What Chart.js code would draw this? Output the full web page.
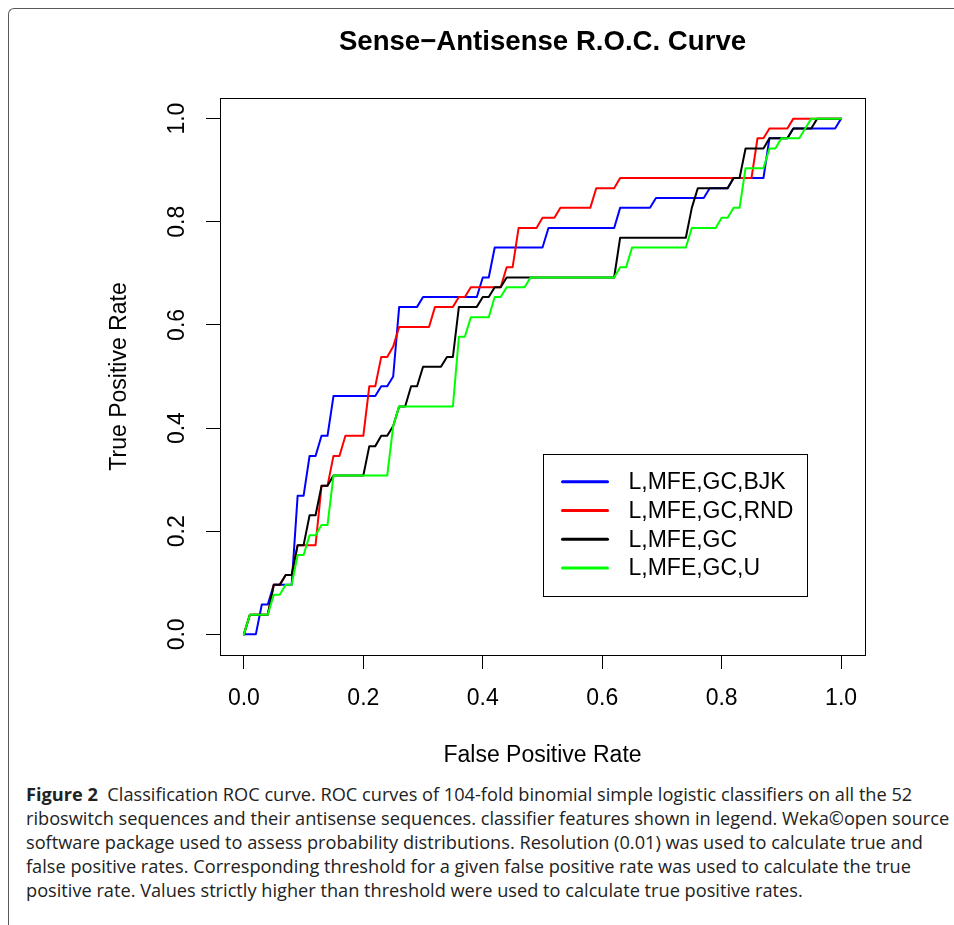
<!DOCTYPE html>
<html>
<head>
<meta charset="utf-8">
<script src="https://cdn.jsdelivr.net/npm/chart.js@4/dist/chart.umd.min.js"></script>
<style>
  body { margin: 0; background: #fff; width: 954px; height: 925px; overflow: hidden; position: relative; }
  #frame { position: absolute; left: 8px; top: 8px; width: 1000px; height: 1000px;
           border-left: 1px solid #5a5a5a; border-top: 1px solid #5a5a5a; border-top-left-radius: 6px; }
  #roc { position: absolute; left: 0; top: 0; }
  #caption { position: absolute; left: 26px; top: 782px; font-family: "Open Sans", sans-serif;
             font-size: 18.2px; line-height: 24px; color: #222; white-space: nowrap; }
</style>
</head>
<body>
<div id="frame"></div>
<canvas id="roc" width="954" height="775"></canvas>
<div id="caption"><b>Figure 2</b>&nbsp; Classification ROC curve. ROC curves of 104-fold binomial simple logistic classifiers on all the 52<br>riboswitch sequences and their antisense sequences. classifier features shown in legend. Weka©open source<br>software package used to assess probability distributions. Resolution (0.01) was used to calculate true and<br>false positive rates. Corresponding threshold for a given false positive rate was used to calculate the true<br>positive rate. Values strictly higher than threshold were used to calculate true positive rates.</div>
<script>
// false positive rate / true positive rate
let bjkFpr = [0,0.02,0.03,0.04,0.05,0.08,0.09,0.10,0.11,0.12,0.13,0.14,0.15,0.22,0.23,0.24,0.25,0.26,0.29,0.30,0.39,0.40,0.41,0.42,0.50,0.51,0.62,0.63,0.68,0.69,0.77,0.78,0.81,0.82,0.87,0.88,0.91,0.92,0.99,1];
let bjkTpr = [0,0,0.058,0.058,0.096,0.096,0.269,0.269,0.346,0.346,0.385,0.385,0.462,0.462,0.481,0.481,0.5,0.635,0.635,0.654,0.654,0.692,0.692,0.75,0.75,0.788,0.788,0.827,0.827,0.846,0.846,0.865,0.865,0.885,0.885,0.962,0.962,0.981,0.981,1];

let rndFpr = [0,0.01,0.04,0.05,0.06,0.07,0.08,0.09,0.12,0.13,0.14,0.15,0.16,0.17,0.20,0.21,0.22,0.23,0.24,0.25,0.26,0.31,0.32,0.35,0.36,0.37,0.38,0.43,0.44,0.45,0.46,0.49,0.50,0.52,0.53,0.58,0.59,0.62,0.63,0.85,0.86,0.87,0.88,0.91,0.92,1];
let rndTpr = [0,0.038,0.038,0.096,0.096,0.115,0.115,0.173,0.173,0.288,0.288,0.346,0.346,0.385,0.385,0.481,0.481,0.538,0.538,0.558,0.596,0.596,0.635,0.635,0.654,0.654,0.673,0.673,0.712,0.712,0.788,0.788,0.808,0.808,0.827,0.827,0.865,0.865,0.885,0.885,0.962,0.962,0.981,0.981,1,1];

let gcFpr = [0,0.01,0.04,0.05,0.06,0.07,0.08,0.09,0.10,0.11,0.12,0.13,0.14,0.15,0.20,0.21,0.22,0.23,0.24,0.25,0.26,0.27,0.28,0.29,0.30,0.33,0.34,0.35,0.36,0.39,0.40,0.41,0.42,0.43,0.44,0.62,0.63,0.74,0.75,0.76,0.81,0.82,0.83,0.84,0.87,0.88,0.91,0.92,0.95,0.96,1];
let gcTpr = [0,0.038,0.038,0.096,0.096,0.115,0.115,0.173,0.173,0.231,0.231,0.288,0.288,0.308,0.308,0.365,0.365,0.385,0.385,0.404,0.442,0.442,0.481,0.481,0.519,0.519,0.538,0.538,0.635,0.635,0.654,0.654,0.673,0.673,0.692,0.692,0.769,0.769,0.827,0.865,0.865,0.885,0.885,0.942,0.942,0.962,0.962,0.981,0.981,1,1];

let uFpr = [0,0.01,0.04,0.05,0.06,0.07,0.08,0.09,0.10,0.11,0.12,0.13,0.14,0.15,0.24,0.25,0.26,0.35,0.36,0.37,0.38,0.41,0.42,0.43,0.44,0.47,0.48,0.62,0.63,0.64,0.65,0.74,0.75,0.79,0.80,0.81,0.82,0.83,0.84,0.87,0.88,0.89,0.90,0.93,0.94,0.95,1];
let uTpr = [0,0.038,0.038,0.077,0.077,0.096,0.096,0.154,0.154,0.192,0.192,0.212,0.212,0.308,0.308,0.404,0.442,0.442,0.577,0.577,0.615,0.615,0.654,0.654,0.673,0.673,0.692,0.692,0.712,0.712,0.75,0.75,0.788,0.788,0.808,0.808,0.827,0.827,0.904,0.904,0.942,0.942,0.962,0.962,0.981,1,1];

let seriesNames = ['L,MFE,GC,BJK', 'L,MFE,GC,RND', 'L,MFE,GC', 'L,MFE,GC,U'];
let seriesColors = ['#0000ff', '#ff0000', '#000000', '#00ff00'];
let axisTicks = [0, 0.2, 0.4, 0.6, 0.8, 1.0];
let legendAt = [0.5, 0.35]; // top-left corner of legend box in data units

Chart.defaults.font.family = '"Liberation Sans", Arial, sans-serif';
Chart.defaults.color = '#000';

function toPoints(xs, ys) {
    return xs.map((x, i) => ({x: x, y: ys[i]}));
}

// box around plot area like R's plot frame
const frameBox = {
    id: 'frameBox',
    afterDraw(chart) {
        const {ctx, chartArea: a} = chart;
        ctx.save();
        ctx.strokeStyle = '#000';
        ctx.lineWidth = 1;
        ctx.strokeRect(Math.round(a.left) + 0.5, Math.round(a.top) + 0.5, Math.round(a.width), Math.round(a.height));
        ctx.restore();
    }
};

// title centred over the plot region
const plotTitle = {
    id: 'plotTitle',
    afterDraw(chart) {
        const {ctx, chartArea: a} = chart;
        ctx.save();
        ctx.font = 'bold 27.6px "Liberation Sans", Arial, sans-serif';
        ctx.fillStyle = '#000';
        ctx.textAlign = 'center';
        ctx.textBaseline = 'middle';
        ctx.fillText('Sense\u2212Antisense R.O.C. Curve', (a.left + a.right) / 2, 42);
        ctx.restore();
    }
};

// R style boxed legend inside the plot
const boxLegend = {
    id: 'boxLegend',
    afterDraw(chart) {
        const {ctx, scales} = chart;
        const left = scales.x.getPixelForValue(legendAt[0]);
        const top = scales.y.getPixelForValue(legendAt[1]);
        const w = 264, h = 142, rowH = 28.7;
        ctx.save();
        ctx.fillStyle = '#fff';
        ctx.fillRect(left, top, w, h);
        ctx.strokeStyle = '#000';
        ctx.lineWidth = 1;
        ctx.strokeRect(Math.round(left) + 0.5, Math.round(top) + 0.5, w, h);
        ctx.font = '23px "Liberation Sans", Arial, sans-serif';
        ctx.textBaseline = 'middle';
        ctx.textAlign = 'left';
        seriesNames.forEach((name, i) => {
            const y = top + 28 + i * rowH;
            ctx.strokeStyle = seriesColors[i];
            ctx.lineWidth = 3;
            ctx.lineCap = 'round';
            ctx.beginPath();
            ctx.moveTo(left + 20, y);
            ctx.lineTo(left + 65, y);
            ctx.stroke();
            ctx.fillStyle = '#000';
            ctx.fillText(name, left + 86, y + 1);
        });
        ctx.restore();
    }
};

const allFpr = [bjkFpr, rndFpr, gcFpr, uFpr];
const allTpr = [bjkTpr, rndTpr, gcTpr, uTpr];

new Chart(document.getElementById('roc').getContext('2d'), {
    type: 'line',
    data: {
        datasets: seriesNames.map((name, i) => ({
            label: name,
            data: toPoints(allFpr[i], allTpr[i]),
            borderColor: seriesColors[i],
            borderWidth: 2,
            pointRadius: 0,
            tension: 0,
            fill: false,
            borderCapStyle: 'round',
            borderJoinStyle: 'round',
            order: 4 - i
        }))
    },
    options: {
        responsive: false,
        animation: false,
        layout: { padding: { top: 98, right: 89, left: 0, bottom: 0 } },
        plugins: { legend: { display: false }, tooltip: { enabled: false } },
        scales: {
            x: {
                type: 'linear',
                min: -0.04,
                max: 1.04,
                afterBuildTicks: axis => { axis.ticks = axisTicks.map(v => ({value: v})); },
                afterFit: axis => { axis.height = 120; },
                grid: { drawOnChartArea: false, drawTicks: true, tickLength: 14, color: '#000' },
                border: { display: false },
                ticks: { font: { size: 23 }, padding: 16, maxRotation: 0, callback: v => v.toFixed(1) },
                title: { display: true, text: 'False Positive Rate', font: { size: 23 }, padding: { top: 0, bottom: 6 } }
            },
            y: {
                type: 'linear',
                min: -0.04,
                max: 1.04,
                afterBuildTicks: axis => { axis.ticks = axisTicks.map(v => ({value: v})); },
                afterFit: axis => { axis.width = 220; },
                grid: { drawOnChartArea: false, drawTicks: true, tickLength: 14, color: '#000' },
                border: { display: false },
                ticks: { font: { size: 23 }, padding: 12, minRotation: 90, maxRotation: 90, crossAlign: 'center', callback: v => v.toFixed(1) },
                title: { display: true, text: 'True Positive Rate', font: { size: 23 }, padding: { top: 106, bottom: 0 } }
            }
        }
    },
    plugins: [frameBox, plotTitle, boxLegend]
});
</script>
</body>
</html>
